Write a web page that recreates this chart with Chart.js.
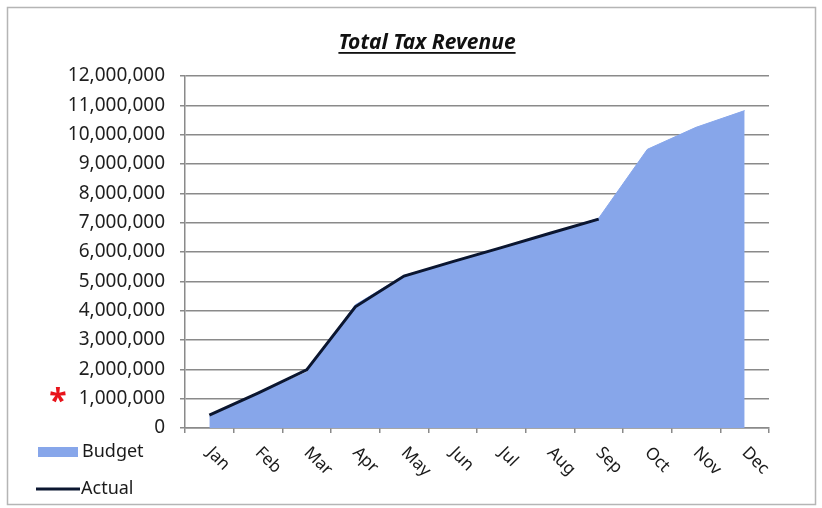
<!DOCTYPE html>
<html><head><meta charset="utf-8">
<script src="https://cdn.jsdelivr.net/npm/chart.js@4"></script>
<style>html,body{margin:0;padding:0;background:#fff}</style>
</head><body>
<canvas id="c" width="822" height="508"></canvas>
<script>
const chartTitle = 'Total Tax Revenue';
const months = ['Jan','Feb','Mar','Apr','May','Jun','Jul','Aug','Sep','Oct','Nov','Dec'];
const budget = [380000, 1150000, 1900000, 4200000, 5200000, 5660000, 6150000, 6630000, 7150000, 9500000, 10250000, 10820000];
const actual = [440000, 1190000, 1980000, 4130000, 5180000, 5670000, 6150000, 6640000, 7120000, null, null, null];
const yMin = 0, yMax = 12000000, yStep = 1000000;
const seriesNames = ['Budget', 'Actual'];
const colBudget = '#87a6ea';
const colActual = '#0b1630';
const gridCol = '#8a8a8a';
const FONT = '"Noto Sans", "DejaVu Sans", sans-serif';

const decor = {
  id: 'decor',
  afterDraw(chart) {
    const ctx = chart.ctx;
    const xs = chart.scales.x;
    ctx.save();
    // outer frame
    ctx.strokeStyle = '#b5b5b5';
    ctx.lineWidth = 1.5;
    ctx.strokeRect(7.5, 7.5, 808, 497);
    // title
    ctx.fillStyle = '#111';
    ctx.font = 'italic bold 21px ' + FONT;
    ctx.textAlign = 'center';
    ctx.textBaseline = 'alphabetic';
    const tx = 427, ty = 49;
    ctx.fillText(chartTitle, tx, ty);
    const tw = ctx.measureText(chartTitle).width;
    ctx.fillRect(tx - tw / 2, ty + 3, tw, 1.8);
    // rotated x labels
    ctx.font = '17px ' + FONT;
    ctx.fillStyle = '#1a1a1a';
    ctx.textAlign = 'left';
    ctx.textBaseline = 'middle';
    months.forEach((m, i) => {
      const px = xs.getPixelForValue(i);
      ctx.save();
      ctx.translate(px, 450);
      ctx.rotate(Math.PI / 4);
      ctx.fillText(m, 0, 0);
      ctx.restore();
    });
    // legend
    ctx.font = '18px ' + FONT;
    ctx.fillStyle = colBudget;
    ctx.fillRect(38, 447, 40, 10);
    ctx.fillStyle = '#1a1a1a';
    ctx.fillText(seriesNames[0], 82, 452);
    ctx.strokeStyle = colActual;
    ctx.lineWidth = 3;
    ctx.beginPath(); ctx.moveTo(36, 489); ctx.lineTo(80, 489); ctx.stroke();
    ctx.fillText(seriesNames[1], 81, 489);
    // red asterisk
    ctx.fillStyle = '#e8141b';
    ctx.font = 'bold 32px ' + FONT;
    ctx.textAlign = 'center';
    ctx.fillText('*', 58, 403);
    ctx.restore();
  }
};

new Chart(document.getElementById('c'), {
  type: 'line',
  data: {
    labels: months,
    datasets: [
      {
        label: seriesNames[1],
        data: actual,
        borderColor: colActual,
        borderWidth: 3,
        pointRadius: 0,
        fill: false,
        tension: 0,
        order: 0
      },
      {
        label: seriesNames[0],
        data: budget,
        borderColor: colBudget,
        borderWidth: 1,
        backgroundColor: colBudget,
        pointRadius: 0,
        fill: 'origin',
        tension: 0,
        order: 1
      }
    ]
  },
  options: {
    responsive: false,
    animation: false,
    devicePixelRatio: 1,
    layout: { padding: { top: 76, right: 53, left: 0, bottom: 0 } },
    plugins: { legend: { display: false }, title: { display: false }, tooltip: { enabled: false } },
    scales: {
      x: {
        offset: true,
        grid: { offset: true, drawOnChartArea: false, drawTicks: true, tickLength: 5, color: gridCol, lineWidth: 1.5 },
        border: { color: gridCol, width: 1.5 },
        ticks: { display: false },
        afterFit(s) { s.height = 80; }
      },
      y: {
        min: yMin, max: yMax,
        grid: { color: gridCol, lineWidth: 1.5, tickLength: 5 },
        border: { color: gridCol, width: 1.5 },
        ticks: {
          stepSize: yStep,
          padding: 15,
          color: '#1f1f1f',
          font: { family: FONT, size: 19 },
          callback: v => Number(v).toLocaleString('en-US')
        },
        afterFit(s) { s.width = 185; }
      }
    }
  },
  plugins: [decor]
});
</script>
</body></html>
